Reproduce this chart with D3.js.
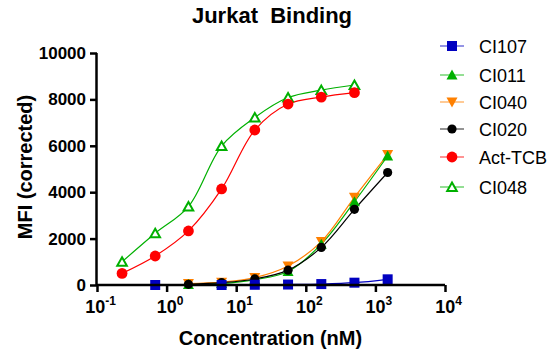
<!DOCTYPE html>
<html><head><meta charset="utf-8">
<script src="https://cdn.jsdelivr.net/npm/d3@7"></script>
<style>body{margin:0;background:#fff}svg{display:block;font-family:Arial,"Liberation Sans",sans-serif}</style>
</head><body><svg id="c" width="557" height="356"></svg>
<script>
const conc8 = [0.229, 0.686, 2.06, 6.17, 18.5, 55.6, 167, 500];
const conc7 = [2.06, 6.17, 18.5, 55.6, 167, 500, 1500];
const concCI107 = [0.686, 6.17, 18.5, 55.6, 167, 500, 1500];
const valCI107 = [0, 0, 10, 20, 40, 100, 245];
const valCI011 = [20, 60, 230, 580, 1760, 3590, 5560];
const valCI040 = [60, 120, 320, 820, 1870, 3780, 5620];
const valCI020 = [30, 100, 260, 640, 1620, 3260, 4850];
const valActTCB = [500, 1250, 2330, 4140, 6680, 7800, 8100, 8290];
const valCI048 = [1000, 2230, 3380, 5990, 7220, 8080, 8400, 8620];
const xTickExps = [-1, 0, 1, 2, 3, 4];
const yTicks = [0, 2000, 4000, 6000, 8000, 10000];

const series = [
  {name:"CI107", x:concCI107, y:valCI107, color:"#0000c0", marker:"square"},
  {name:"CI011", x:conc7, y:valCI011, color:"#00b000", marker:"tri"},
  {name:"CI040", x:conc7, y:valCI040, color:"#ff8000", marker:"tridown"},
  {name:"CI020", x:conc7, y:valCI020, color:"#000000", marker:"circle"},
  {name:"Act-TCB", x:conc8, y:valActTCB, color:"#ff0000", marker:"bigcircle"},
  {name:"CI048", x:conc8, y:valCI048, color:"#00b000", marker:"opentri"}
];

const svg = d3.select("#c");
const x = d3.scaleLog().domain([0.1, 10000]).range([97, 445]);
const y = d3.scaleLinear().domain([0, 10000]).range([285, 53]);

function drawMarker(g, type, color) {
  if (type === "square") {
    g.append("rect").attr("x",-5).attr("y",-5).attr("width",10).attr("height",10).attr("fill",color);
  } else if (type === "circle") {
    g.append("circle").attr("r",4.6).attr("fill",color);
  } else if (type === "bigcircle") {
    g.append("circle").attr("r",5.4).attr("fill",color);
  } else if (type === "tri") {
    g.append("path").attr("d","M0,-5.5L5.5,4.5L-5.5,4.5Z").attr("fill",color);
  } else if (type === "tridown") {
    g.append("path").attr("d","M0,5.5L5.5,-4.5L-5.5,-4.5Z").attr("fill",color);
  } else if (type === "opentri") {
    g.append("path").attr("d","M0,-4.5L4.8,4L-4.8,4Z").attr("fill","#fff").attr("stroke",color).attr("stroke-width",2);
  }
}

const line = d3.line().x(d=>x(d[0])).y(d=>y(d[1])).curve(d3.curveCatmullRom.alpha(0.5));
const drawOrder = [5,4,2,1,3,0];
drawOrder.forEach(i => {
  const s = series[i];
  const pts = s.x.map((v,j)=>[v, s.y[j]]);
  svg.append("path").datum(pts).attr("d", line).attr("fill","none").attr("stroke", s.color).attr("stroke-width",1.2);
});
drawOrder.forEach(i => {
  const s = series[i];
  s.x.forEach((v,j)=>{
    const g = svg.append("g").attr("transform",`translate(${x(v)},${y(s.y[j])})`);
    drawMarker(g, s.marker, s.color);
  });
});

// Axes
const yAxis = svg.append("g").attr("transform","translate(97,0)")
  .call(d3.axisLeft(y).tickValues(yTicks).tickSize(7).tickPadding(4).tickFormat(d3.format("d")));
const xAxis = svg.append("g").attr("transform","translate(0,285)")
  .call(d3.axisBottom(x).tickValues(xTickExps.map(e=>Math.pow(10,e))).tickSize(7).tickPadding(6).tickFormat(""));
[yAxis, xAxis].forEach(a=>{
  a.select(".domain").attr("stroke","#000").attr("stroke-width",2.5);
  a.selectAll(".tick line").attr("stroke","#000").attr("stroke-width",2.5);
});
yAxis.select(".domain").attr("d","M-0.5,53V285");
xAxis.select(".domain").attr("d","M97,0H445");
yAxis.selectAll(".tick text").attr("font-size",17).attr("font-weight","bold").attr("fill","#000").attr("font-family","Arial, 'Liberation Sans', sans-serif");
xAxis.selectAll(".tick").each(function(d,i){
  const t = d3.select(this).append("text").attr("y",28).attr("x",3).attr("text-anchor","middle").attr("fill","#000")
    .attr("font-size",18).attr("font-weight","bold");
  t.append("tspan").text("10");
  t.append("tspan").attr("dy",-8).attr("font-size",12).text(xTickExps[i] < 0 ? "-" + Math.abs(xTickExps[i]) : String(xTickExps[i]));
});

// Titles
svg.append("text").attr("x",272).attr("y",23).attr("text-anchor","middle").attr("font-size",22).attr("font-weight","bold")
  .attr("xml:space","preserve").style("white-space","pre").text("Jurkat  Binding");
svg.append("text").attr("x",270.5).attr("y",345).attr("text-anchor","middle").attr("font-size",20).attr("font-weight","bold").text("Concentration (nM)");
svg.append("text").attr("transform","translate(32,167) rotate(-90)").attr("text-anchor","middle").attr("font-size",20).attr("font-weight","bold").text("MFI (corrected)");

// Legend
const legY = [46, 75, 102, 129, 157, 187];
series.forEach((s,i)=>{
  const g = svg.append("g").attr("transform",`translate(0,${legY[i]})`);
  g.append("line").attr("x1",440).attr("x2",464).attr("y1",0).attr("y2",0).attr("stroke",s.color).attr("stroke-width",1.2).attr("stroke-opacity",0.7);
  const m = g.append("g").attr("transform","translate(452,0)");
  drawMarker(m, s.marker, s.color);
  g.append("text").attr("x",479).attr("y",7).attr("font-size",18).attr("fill","#000").text(s.name);
});
</script></body></html>
